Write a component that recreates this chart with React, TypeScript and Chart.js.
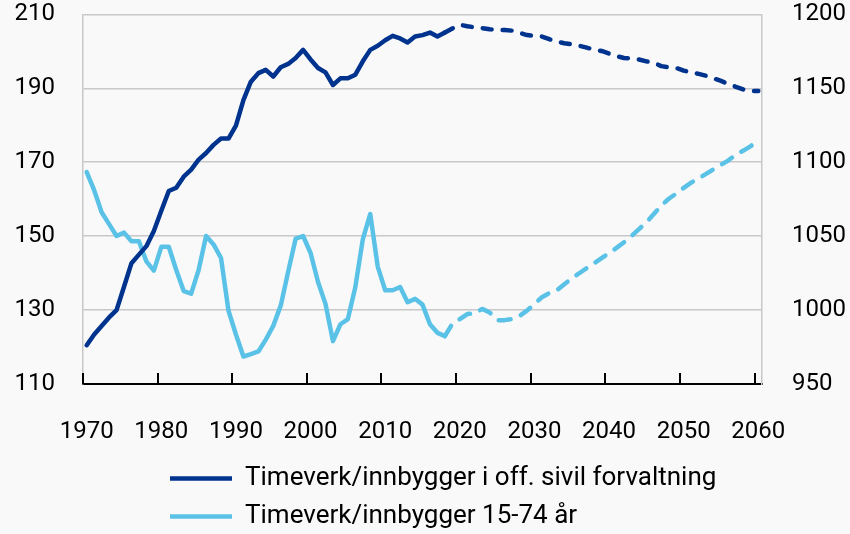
import React, { useEffect, useRef } from 'react';
import { Chart, registerables } from 'chart.js';

Chart.register(...registerables);

const FIRST_YEAR = 1970;
const LAST_YEAR = 2060;
const years: string[] = [];
for (let y = FIRST_YEAR; y <= LAST_YEAR; y++) years.push(String(y));

const xTickLabels = ['1970', '1980', '1990', '2000', '2010', '2020', '2030', '2040', '2050', '2060'];

// Timeverk/innbygger i off. sivil forvaltning (left axis)
const offSivil = [
  120.5, 123.4, 125.7, 128.0, 130.0, 136.3, 142.7, 145.0, 147.3, 151.4,
  156.9, 162.2, 163.1, 166.1, 168.0, 170.7, 172.5, 174.7, 176.4, 176.4,
  179.9, 186.8, 191.8, 194.1, 195.0, 193.2, 195.7, 196.6, 198.2, 200.4,
  197.8, 195.5, 194.3, 190.9, 192.7, 192.7, 193.7, 197.3, 200.4, 201.5,
  203.0, 204.2, 203.5, 202.4, 204.0, 204.4, 205.1, 204.0, 205.1, 206.2,
  207.2, 206.8, 206.5, 206.3, 206.0, 205.8, 205.8, 205.6, 205.0, 204.4,
  204.2, 204.0, 203.3, 202.6, 202.2, 201.9, 201.5, 201.0, 200.5, 200.1,
  199.4, 198.7, 198.2, 198.1, 197.8, 197.3, 196.9, 196.0, 195.7, 195.5,
  194.8, 194.3, 193.9, 193.4, 192.7, 192.0, 191.2, 190.4, 189.7, 189.3,
  189.3,
];

// Timeverk/innbygger 15-74 år (right axis)
const alder1574 = [
  1093.3, 1081.1, 1066.2, 1058.1, 1050.1, 1052.4, 1046.6, 1046.6, 1032.9, 1026.7,
  1042.8, 1042.8, 1027.1, 1012.9, 1011.1, 1027.1, 1050.1, 1044.4, 1035.2, 999.6,
  983.5, 968.6, 970.2, 972.0, 980.0, 989.3, 1003.0, 1026.0, 1048.3, 1050.1,
  1038.6, 1019.0, 1004.2, 979.0, 990.4, 993.9, 1015.6, 1047.8, 1065.0, 1029.4,
  1013.4, 1013.4, 1015.6, 1005.3, 1007.6, 1003.7, 990.4, 984.6, 982.4, 990.8,
  993.9, 997.3, 997.7, 1000.8, 998.4, 993.2, 993.2, 993.9, 996.1, 999.6,
  1004.2, 1008.7, 1011.5, 1013.4, 1017.5, 1021.4, 1024.9, 1028.3, 1031.7, 1035.2,
  1038.6, 1042.1, 1045.9, 1050.1, 1054.7, 1059.3, 1065.0, 1070.7, 1075.3, 1078.8,
  1082.7, 1086.2, 1089.1, 1092.1, 1095.3, 1098.3, 1101.3, 1105.2, 1107.9, 1110.9,
  1115.5,
];

const LAST_HISTORY_YEAR = '2018';

const seriesLabels = ['Timeverk/innbygger i off. sivil forvaltning', 'Timeverk/innbygger 15-74 år'];
const DARK = '#00338D';
const LIGHT = '#5BC2E7';
const GRID = '#c8c8c8';
const BG = '#f9f9f9';
const FONT = 'Roboto, sans-serif';

const LEGEND_LEFT = 158;
const LEGEND_DROP = 7;

export default function App() {
  const ref = useRef<HTMLCanvasElement | null>(null);

  useEffect(() => {
    if (!ref.current) return;
    const histIdx = years.indexOf(LAST_HISTORY_YEAR);

    const bgPlugin = {
      id: 'bg',
      beforeDraw(chart: any) {
        const { ctx } = chart;
        ctx.save();
        ctx.fillStyle = BG;
        ctx.fillRect(0, 0, chart.width, chart.height);
        ctx.restore();
      },
    };

    const legendShift = {
      id: 'legendShift',
      afterLayout(chart: any) {
        const lg = chart.legend;
        if (lg) {
          lg.left = LEGEND_LEFT;
          lg.top += LEGEND_DROP;
          lg.bottom += LEGEND_DROP;
        }
      },
    };

    const innerTicks = {
      id: 'innerTicks',
      afterDraw(chart: any) {
        const xs = chart.scales.x;
        const { ctx } = chart;
        const half = (xs.getPixelForValue(1) - xs.getPixelForValue(0)) / 2;
        ctx.save();
        ctx.strokeStyle = '#000';
        ctx.lineWidth = 2;
        ctx.beginPath();
        xTickLabels.forEach((lbl) => {
          const i = years.indexOf(lbl);
          const px = Math.round(xs.getPixelForValue(i) - half);
          ctx.moveTo(px, xs.top);
          ctx.lineTo(px, xs.top - 11);
        });
        ctx.stroke();
        ctx.restore();
      },
    };

    const dashFor = (pattern: number[]) => (c: any) => (c.p0DataIndex >= histIdx ? pattern : undefined);
    const plain = (v: any) => String(v);

    const chart = new Chart(ref.current, {
      type: 'line',
      data: {
        labels: years,
        datasets: [
          {
            label: seriesLabels[0],
            data: offSivil,
            borderColor: DARK,
            backgroundColor: DARK,
            borderWidth: 4.5,
            borderCapStyle: 'round',
            borderJoinStyle: 'round',
            pointRadius: 0,
            tension: 0,
            yAxisID: 'y',
            segment: { borderDash: dashFor([9, 11]) },
          },
          {
            label: seriesLabels[1],
            data: alder1574,
            borderColor: LIGHT,
            backgroundColor: LIGHT,
            borderWidth: 4.5,
            borderCapStyle: 'round',
            borderJoinStyle: 'round',
            pointRadius: 0,
            tension: 0,
            yAxisID: 'y1',
            segment: { borderDash: dashFor([12, 11]) },
          },
        ],
      },
      options: {
        responsive: false,
        animation: false,
        layout: { padding: { left: 14.5, right: 4, top: 4.6, bottom: 1.6 } },
        plugins: {
          tooltip: { enabled: false },
          legend: {
            position: 'bottom',
            align: 'start',
            labels: {
              usePointStyle: true,
              pointStyle: 'line',
              pointStyleWidth: 62,
              padding: 12,
              color: '#000',
              font: { family: FONT, size: 26 },
            },
          },
        },
        scales: {
          x: {
            type: 'category',
            offset: true,
            grid: { display: true, drawOnChartArea: false, drawTicks: true, tickLength: 33.6, tickColor: 'rgba(0,0,0,0)' },
            border: { display: true, color: '#000', width: 2 },
            ticks: {
              autoSkip: false,
              maxRotation: 0,
              padding: 0,
              color: '#000',
              font: { family: FONT, size: 24 },
              callback: (_v: any, i: number) => (xTickLabels.includes(years[i]) ? years[i] : ''),
            },
          },
          y: {
            position: 'left',
            min: 110,
            max: 210,
            ticks: { stepSize: 20, padding: 0, color: '#000', font: { family: FONT, size: 24 }, callback: plain },
            grid: { color: GRID, lineWidth: 1.5, drawTicks: true, tickLength: 28, tickColor: 'rgba(0,0,0,0)' },
            border: { display: true, color: GRID, width: 1.5 },
          },
          y1: {
            position: 'right',
            min: 950,
            max: 1200,
            ticks: { stepSize: 50, padding: 0, color: '#000', font: { family: FONT, size: 24 }, callback: plain },
            grid: { drawOnChartArea: false, drawTicks: true, tickLength: 30, tickColor: 'rgba(0,0,0,0)' },
            border: { display: true, color: GRID, width: 1.5 },
          },
        },
      },
      plugins: [bgPlugin, legendShift, innerTicks],
    } as any);

    return () => chart.destroy();
  }, []);

  return (
    <div style={{ position: 'absolute', left: 0, top: 0, width: 850, height: 534 }}>
      <canvas ref={ref} width={850} height={534} style={{ display: 'block' }} />
    </div>
  );
}
